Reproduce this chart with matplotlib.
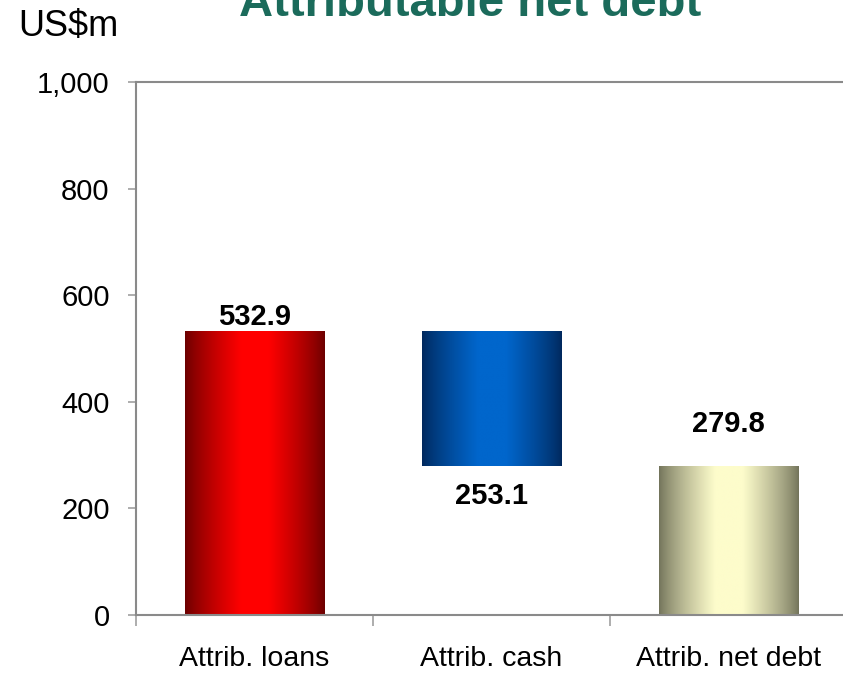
import numpy as np
import matplotlib
matplotlib.use("Agg")
import matplotlib.pyplot as plt
from matplotlib.colors import LinearSegmentedColormap
from matplotlib.ticker import FuncFormatter

# Waterfall of attributable net debt (US$m)
categories = ["Attrib. loans", "Attrib. cash", "Attrib. net debt"]
values = [532.9, 253.1, 279.8]
bottoms = [0.0, 279.8, 0.0]
label_text = ["532.9", "253.1", "279.8"]

yticks = [0, 200, 400, 600, 800, 1000]

# Edge / centre colours for the cylinder-like shading of each bar
edge_colors = ["#6a0000", "#00285c", "#72735a"]
centre_colors = ["#ff0000", "#0066cc", "#fdfccb"]

plt.rcParams["font.family"] = ["Liberation Sans", "DejaVu Sans"]

fig = plt.figure(figsize=(8.43, 6.74), dpi=100)
ax = fig.add_axes([136 / 843, 1 - 615 / 674, 711 / 843, (615 - 82) / 674])

bars = ax.bar(range(len(categories)), values, bottom=bottoms, width=0.59,
              color="none", edgecolor="none", zorder=2)

x = np.linspace(0, 1, 256)
# brightness profile across a bar: dark at the edges, bright band in the middle
prof = np.clip((1 - np.abs(x - 0.5) * 2) / 0.8, 0, 1) ** 0.8
for bar, c0, c1 in zip(bars, edge_colors, centre_colors):
    cmap = LinearSegmentedColormap.from_list("shade", [c0, c1])
    xb, yb = bar.get_x(), bar.get_y()
    w, h = bar.get_width(), bar.get_height()
    im = ax.imshow(prof[np.newaxis, :], cmap=cmap, aspect="auto",
                   extent=[xb, xb + w, yb, yb + h], zorder=2,
                   interpolation="bilinear", vmin=0, vmax=1)
    im.set_clip_path(bar)

# Value labels
lab_kw = dict(textcoords="offset points", ha="center", va="center",
              fontsize=21, fontweight="bold")
ax.annotate(label_text[0], (0, bottoms[0] + values[0]), xytext=(0, 10), **lab_kw)
ax.annotate(label_text[1], (1, bottoms[1]), xytext=(0, -22), **lab_kw)
ax.annotate(label_text[2], (2, bottoms[2] + values[2]), xytext=(0, 30), **lab_kw)

ax.set_xlim(-0.5, 2.5)
ax.set_ylim(0, 1000)
ax.set_yticks(yticks)
ax.yaxis.set_major_formatter(FuncFormatter(lambda v, p: f"{int(v):,}"))
ax.tick_params(axis="y", direction="out", length=6, width=1.2, color="#a0a0a0",
               labelsize=21, pad=13)

ax.set_xticks([-0.5, 0.5, 1.5, 2.5])
ax.set_xticklabels([])
ax.set_xticks(range(len(categories)), minor=True)
ax.set_xticklabels(categories, minor=True)
ax.tick_params(axis="x", which="major", direction="out", length=8, width=1.2,
               color="#a0a0a0")
ax.tick_params(axis="x", which="minor", length=0, labelsize=20.5, pad=22)

for side in ["left", "bottom", "top", "right"]:
    ax.spines[side].set_color("#8a8a8a")
    ax.spines[side].set_linewidth(1.5)

fig.text(470 / 843, 1 - 16 / 674, "Attributable net debt", ha="center",
         va="baseline", fontsize=34, fontweight="bold", color="#1b6b5b")
fig.text(18 / 843, 1 - 27 / 674, "US$m", ha="left", va="center", fontsize=26)

fig.savefig("out.png", dpi=100)
